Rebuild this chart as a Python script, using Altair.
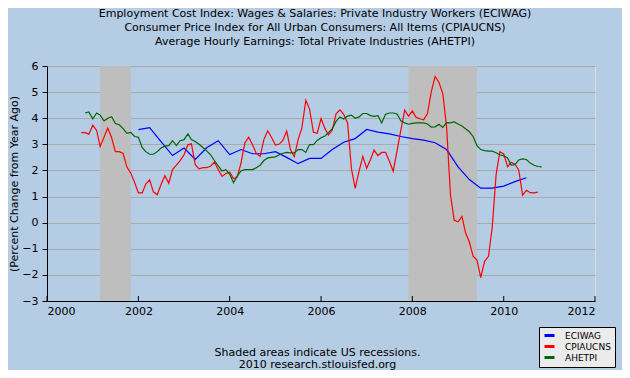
import altair as alt
import pandas as pd

# ---------------- data ----------------
series_names = ["ECIWAG", "CPIAUCNS", "AHETPI"]
series_colors = ["#0000FF", "#FF0000", "#006600"]

# ECIWAG, quarterly, 2002Q1 .. 2010Q3
eci_start = "2002-01-01"
eci_values = [
    3.56, 3.64, 3.10, 2.57,
    2.86, 2.42, 2.87, 3.14,
    2.61, 2.80, 2.64, 2.64,
    2.72, 2.50, 2.26, 2.46,
    2.46, 2.80, 3.08, 3.22,
    3.57, 3.47, 3.40, 3.30,
    3.22, 3.16, 3.06, 2.80,
    2.14, 1.65, 1.32, 1.32,
    1.40, 1.57, 1.72,
]

# CPIAUCNS, monthly, 2000-10 .. 2010-10
cpi_start = "2000-10-01"
cpi_values = [
    3.45, 3.45, 3.39,
    3.73, 3.53, 2.92, 3.27, 3.62, 3.25, 2.72, 2.72, 2.65, 2.13, 1.90, 1.55,
    1.14, 1.14, 1.48, 1.64, 1.18, 1.07, 1.46, 1.80, 1.51, 2.03, 2.20, 2.38,
    2.60, 2.98, 3.02, 2.22, 2.06, 2.11, 2.11, 2.16, 2.32, 2.04, 1.77, 1.88,
    1.93, 1.69, 1.74, 2.29, 3.05, 3.27, 2.99, 2.65, 2.54, 3.19, 3.52, 3.26,
    2.97, 3.01, 3.15, 3.51, 2.80, 2.53, 3.17, 3.64, 4.69, 4.35, 3.46, 3.42,
    3.99, 3.60, 3.36, 3.55, 4.17, 4.32, 4.15, 3.82, 2.06, 1.31, 1.97, 2.54,
    2.08, 2.42, 2.78, 2.57, 2.69, 2.69, 2.36, 1.97, 2.76, 3.54, 4.31, 4.08,
    4.28, 4.03, 3.98, 3.94, 4.18, 5.02, 5.60, 5.37, 4.94, 3.66, 1.07, 0.09,
    0.03, 0.24, -0.38, -0.74, -1.28, -1.43, -2.10, -1.48, -1.29, -0.18, 1.84, 2.72,
    2.63, 2.14, 2.31, 2.24, 2.02, 1.05, 1.24, 1.15, 1.14, 1.17,
]

# AHETPI, monthly, 2000-11 .. 2010-11
ahe_start = "2000-11-01"
ahe_values = [
    4.20, 4.24,
    3.98, 4.20, 4.12, 3.90, 4.00, 4.06, 3.80, 3.75, 3.60, 3.42, 3.46, 3.30,
    3.27, 2.87, 2.72, 2.62, 2.62, 2.72, 2.86, 2.93, 2.95, 3.14, 2.95, 3.14,
    3.18, 3.40, 3.18, 3.11, 3.00, 2.88, 2.75, 2.60, 2.38, 2.18, 1.98, 2.03,
    1.86, 1.53, 1.78, 1.98, 2.03, 2.03, 2.03, 2.10, 2.20, 2.38, 2.48, 2.50,
    2.52, 2.60, 2.66, 2.69, 2.67, 2.67, 2.80, 2.80, 2.69, 2.99, 2.99, 3.15,
    3.25, 3.32, 3.45, 3.60, 3.88, 4.05, 3.97, 4.08, 4.12, 4.00, 4.05, 4.18,
    4.18, 4.10, 4.07, 4.10, 3.82, 4.15, 4.20, 4.20, 4.16, 3.90, 3.82, 3.77,
    3.80, 3.82, 3.82, 3.82, 3.78, 3.66, 3.67, 3.77, 3.65, 3.83, 3.82, 3.86,
    3.78, 3.70, 3.60, 3.48, 3.30, 2.95, 2.80, 2.76, 2.74, 2.74, 2.68, 2.60,
    2.56, 2.48, 2.20, 2.22, 2.40, 2.44, 2.42, 2.28, 2.20, 2.15, 2.14,
]

recession_starts = ["2001-03-01", "2007-12-01"]
recession_ends = ["2001-11-01", "2009-06-01"]

tick_years = [2000, 2002, 2004, 2006, 2008, 2010, 2012]
y_ticks = [-3, -2, -1, 0, 1, 2, 3, 4, 5, 6]

title_lines = [
    "Employment Cost Index: Wages & Salaries: Private Industry Workers (ECIWAG)",
    "Consumer Price Index for All Urban Consumers: All Items (CPIAUCNS)",
    "Average Hourly Earnings: Total Private Industries (AHETPI)",
]
footer_lines = ["Shaded areas indicate US recessions.", "2010 research.stlouisfed.org"]
y_title = "(Percent Change from Year Ago)"

# ---------------- tables ----------------
frames = []
for name, start, vals, freq in [
    ("ECIWAG", eci_start, eci_values, "QS"),
    ("CPIAUCNS", cpi_start, cpi_values, "MS"),
    ("AHETPI", ahe_start, ahe_values, "MS"),
]:
    d = pd.date_range(start, periods=len(vals), freq=freq)
    frames.append(pd.DataFrame({"date": d.strftime("%Y-%m-%d"), "value": vals, "series": name}))
lines_df = pd.concat(frames, ignore_index=True)

rec_df = pd.DataFrame({"start": recession_starts, "end": recession_ends})
tick_df = pd.DataFrame({"date": [f"{y}-01-01" for y in tick_years]})

FONT = "DejaVu Sans"
W, H = 548, 235

x_scale = alt.Scale(domain=["2000-01-01", "2012-01-01"])

x_axis = alt.Axis(
    values=[alt.DateTime(year=y, month=1, date=1) for y in tick_years],
    format="%Y",
    ticks=False,
    grid=False,
    domainColor="black",
    labelColor="black",
    labelFont=FONT,
    labelFontSize=11,
    labelPadding=4,
    title=footer_lines,
    titleFont=FONT,
    titleFontSize=11,
    titleFontWeight="normal",
    titleColor="black",
    titlePadding=30,
    titleLineHeight=12,
    titleX=270,
)

y_axis = alt.Axis(
    values=y_ticks,
    format="d",
    tickSize=5,
    tickColor="black",
    domainColor="black",
    gridColor="#AAAAAA",
    labelColor="black",
    labelFont=FONT,
    labelFontSize=11,
    labelPadding=4,
    title=y_title,
    titleFont=FONT,
    titleFontSize=11,
    titleFontWeight="normal",
    titleColor="black",
    titlePadding=2,
)

rec = alt.Chart(rec_df).mark_rect(color="#BEBEBE").encode(
    x=alt.X("start:T", scale=x_scale, axis=x_axis),
    x2="end:T",
)

lines = alt.Chart(lines_df).mark_line(strokeWidth=1.2).encode(
    x=alt.X("date:T", scale=x_scale, axis=x_axis),
    y=alt.Y("value:Q", scale=alt.Scale(domain=[-3, 6], nice=False), axis=y_axis),
    color=alt.Color(
        "series:N",
        scale=alt.Scale(domain=series_names, range=series_colors),
        legend=alt.Legend(
            title=None,
            orient="none",
            legendX=492,
            legendY=261,
            fillColor="#EBEBEB",
            strokeColor="black",
            padding=4,
            symbolType="stroke",
            symbolSize=100,
            symbolStrokeWidth=3,
            labelFont=FONT,
            labelFontSize=9,
            labelColor="black",
            labelOffset=9,
            clipHeight=9,
            rowPadding=1,
        ),
    ),
    order=alt.Order("series_order:Q"),
).transform_calculate(
    series_order="indexof(['ECIWAG','CPIAUCNS','AHETPI'], datum.series)"
)

ticks = alt.Chart(tick_df).mark_rule(color="black").encode(
    x=alt.X("date:T", scale=x_scale, axis=x_axis),
    y=alt.value(H - 5),
    y2=alt.value(H),
)

chart = (
    alt.layer(rec, lines, ticks)
    .properties(
        width=W,
        height=H,
        autosize=alt.AutoSizeParams(type="none"),
        padding={"left": 39, "top": 58, "right": 27, "bottom": 69},
        background="#B4CCE4",
        title=alt.TitleParams(
            text=title_lines,
            font=FONT,
            fontSize=11,
            fontWeight="normal",
            color="black",
            lineHeight=14,
            anchor="middle",
            offset=13,
            dx=-6,
        ),
    )
    .configure_view(fill="white", strokeWidth=0)
    .configure(font=FONT)
)

chart.save("out.html", embed_options={"renderer": "svg", "actions": False})
